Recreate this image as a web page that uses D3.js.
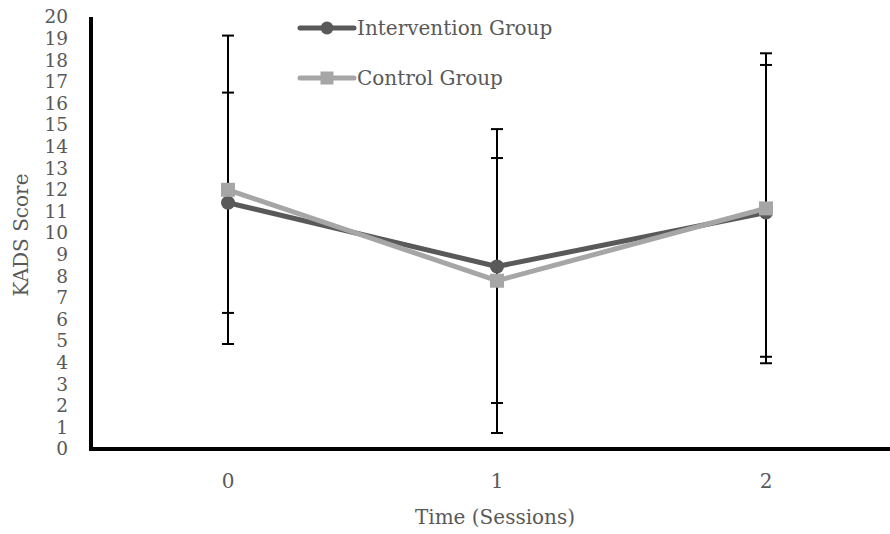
<!DOCTYPE html>
<html>
<head>
<meta charset="utf-8">
<script src="https://cdn.jsdelivr.net/npm/d3@7"></script>
<style>
  html, body { margin: 0; padding: 0; background: #fff; }
  svg { display: block; }
  text { font-family: "DejaVu Serif", serif; fill: #595959; }
</style>
</head>
<body>
<svg id="chart" width="890" height="534"></svg>
<script>
// data
const sessions = [0, 1, 2]
const yTicks = d3.range(0, 21)

const interventionMean = [11.4, 8.45, 10.95]
const interventionLow = [6.3, 2.13, 4.27]
const interventionHigh = [16.5, 13.47, 17.78]

const controlMean = [12.0, 7.79, 11.14]
const controlLow = [4.86, 0.74, 3.97]
const controlHigh = [19.14, 14.81, 18.32]

const seriesNames = ['Intervention Group', 'Control Group']

const svg = d3.select('#chart')
const x = d3.scalePoint().domain(sessions).range([228, 766])
const y = d3.scaleLinear().domain([0, 20]).range([449, 17])

const series = [
    {name: seriesNames[0], mean: interventionMean, low: interventionLow, high: interventionHigh, color: '#595959', marker: 'circle'},
    {name: seriesNames[1], mean: controlMean, low: controlLow, high: controlHigh, color: '#A6A6A6', marker: 'square'}
]

// y tick labels (no tick marks), packed tight like the original
svg.append('g')
    .selectAll('text')
    .data(yTicks)
    .enter()
    .append('text')
    .attr('x', 68)
    .attr('y', d => y(d))
    .attr('dy', '0.35em')
    .attr('text-anchor', 'end')
    .style('font-size', '18.5px')
    .text(d => d)

// x tick labels
svg.append('g')
    .selectAll('text')
    .data(sessions)
    .enter()
    .append('text')
    .attr('x', d => x(d))
    .attr('y', 481)
    .attr('dy', '0.35em')
    .attr('text-anchor', 'middle')
    .style('font-size', '20px')
    .text(d => d)

// axis titles
svg.append('text')
    .attr('transform', 'translate(21,235) rotate(-90)')
    .attr('dy', '0.35em')
    .attr('text-anchor', 'middle')
    .style('font-size', '20px')
    .text('KADS Score')

svg.append('text')
    .attr('x', 495)
    .attr('y', 517)
    .attr('dy', '0.35em')
    .attr('text-anchor', 'middle')
    .style('font-size', '20px')
    .text('Time (Sessions)')

// error bars first, markers sit on top of them
const capHalf = 6
series.forEach(s => {
    const g = svg.append('g').attr('stroke', '#000').attr('stroke-width', 2)
    sessions.forEach((d, i) => {
        g.append('line')
            .attr('x1', x(d)).attr('x2', x(d))
            .attr('y1', y(s.low[i])).attr('y2', y(s.high[i]))
        ;[s.low[i], s.high[i]].forEach(v => {
            g.append('line')
                .attr('x1', x(d) - capHalf).attr('x2', x(d) + capHalf)
                .attr('y1', y(v)).attr('y2', y(v))
        })
    })
})

// axes
svg.append('line')
    .attr('x1', 91).attr('x2', 91)
    .attr('y1', y(20)).attr('y2', y(0) + 2)
    .attr('stroke', '#000').attr('stroke-width', 4)
svg.append('line')
    .attr('x1', 89).attr('x2', 890)
    .attr('y1', y(0)).attr('y2', y(0))
    .attr('stroke', '#000').attr('stroke-width', 4)

function drawMarker(g, kind, cx, cy, color, size) {
    if (kind === 'circle') {
        g.append('circle').attr('cx', cx).attr('cy', cy).attr('r', size / 2).attr('fill', color)
    } else {
        g.append('rect')
            .attr('x', cx - size / 2).attr('y', cy - size / 2)
            .attr('width', size).attr('height', size)
            .attr('fill', color)
    }
}

const line = d3.line()
    .x((d, i) => x(sessions[i]))
    .y(d => y(d))

series.forEach(s => {
    const g = svg.append('g')
    g.append('path')
        .attr('d', line(s.mean))
        .attr('fill', 'none')
        .attr('stroke', s.color)
        .attr('stroke-width', 5)
        .attr('stroke-linejoin', 'round')
    s.mean.forEach((v, i) => drawMarker(g, s.marker, x(sessions[i]), y(v), s.color, 14))
})

// legend
const legend = svg.append('g')
series.forEach((s, i) => {
    const ly = 28 + i * 50
    legend.append('line')
        .attr('x1', 300).attr('x2', 354)
        .attr('y1', ly).attr('y2', ly)
        .attr('stroke', s.color).attr('stroke-width', 5)
        .attr('stroke-linecap', 'round')
    drawMarker(legend, s.marker, 327, ly, s.color, 13)
    legend.append('text')
        .attr('x', 357)
        .attr('y', ly)
        .attr('dy', '0.35em')
        .style('font-size', '20px')
        .text(s.name)
})
</script>
</body>
</html>
